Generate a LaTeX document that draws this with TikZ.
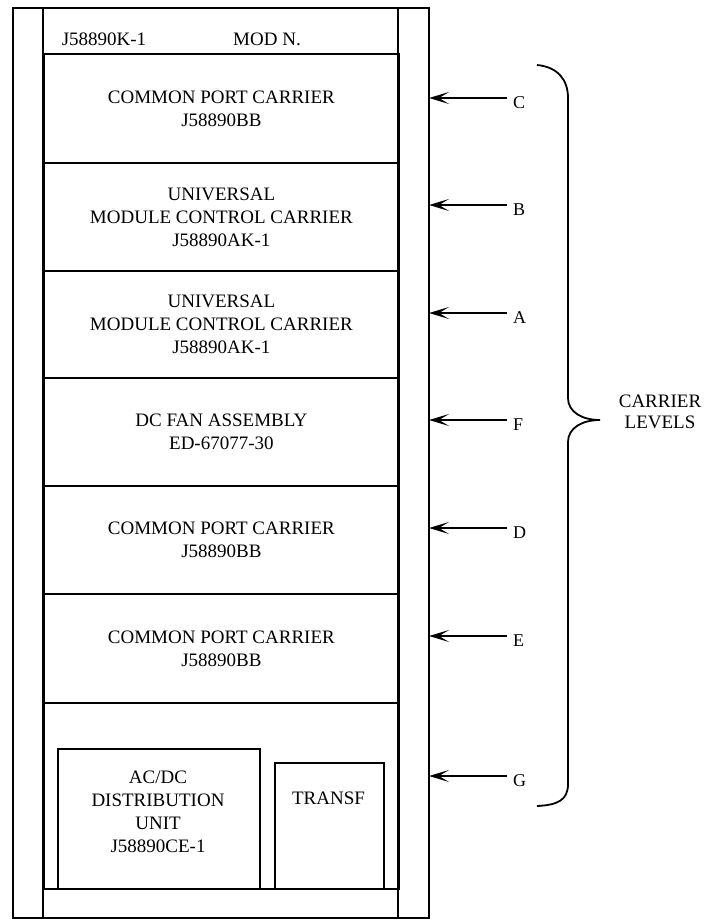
\documentclass[tikz,border=0pt]{standalone}
\usepackage{fontspec}
\setmainfont{Liberation Serif}
\usetikzlibrary{arrows.meta}
\begin{document}
\begin{tikzpicture}[x=1pt,y=-1pt,
  every node/.style={font=\fontsize{19}{23}\selectfont, align=center, inner sep=0pt},
  lw/.style={line width=1.8pt},
  panel/.style={draw, lw, minimum width=355pt, anchor=north west},
  unitbox/.style={draw, lw, anchor=north west},
  levelarrow/.style={lw, -{Stealth[length=20pt,width=12pt,inset=10pt]}},
  levellabel/.style={font=\fontsize{18}{20}\selectfont, anchor=west}]
\useasboundingbox (0,0) rectangle (704,920);
% frame
\draw[lw] (13,8) rectangle (429,918);
\draw[lw] (43,8) -- (43,918);
\draw[lw] (398,8) -- (398,918);
% top row
\node (pn) at (104,39) {J58890K-1};
\node (mod) at (267,39) {MOD N.};
% panels
\node[panel, minimum height=109pt] (pC) at (43,53) {COMMON PORT CARRIER\\J58890BB};
\node[panel, minimum height=108pt] (pB) at (43,162) {UNIVERSAL\\MODULE CONTROL CARRIER\\J58890AK-1};
\node[panel, minimum height=107pt] (pA) at (43,270) {UNIVERSAL\\MODULE CONTROL CARRIER\\J58890AK-1};
\node[panel, minimum height=108pt] (pF) at (43,377) {DC FAN ASSEMBLY\\ED-67077-30};
\node[panel, minimum height=108pt] (pD) at (43,485) {COMMON PORT CARRIER\\J58890BB};
\node[panel, minimum height=109pt] (pE) at (43,593) {COMMON PORT CARRIER\\J58890BB};
\node[panel, minimum height=186pt] (pG) at (43,702) {};
% units in bottom panel
\node[unitbox, minimum width=202pt, minimum height=140pt] (acdc) at (57,748) {};
\node (acdcT) at (158,812) {AC/DC\\DISTRIBUTION\\UNIT\\J58890CE-1};
\node[unitbox, minimum width=109pt, minimum height=126pt] (transf) at (274,762) {};
\node (transfT) at (328.5,798) {TRANSF};
% level arrows
\foreach \lab/\yy in {C/98, B/205, A/313, F/420, D/528, E/636, G/776}{
  \coordinate (s\lab) at (507,\yy);
  \coordinate (t\lab) at (429,\yy);
  \node[levellabel] (l\lab) at (513,\yy+5) {\lab};
  \draw[levelarrow] (s\lab) -- (t\lab);
}
% brace
\draw[lw] (537,65) .. controls (558,67) and (568,80) .. (568,98)
  -- (568,398) .. controls (568,412) and (582,420) .. (600,420)
  .. controls (582,420) and (568,428) .. (568,442)
  -- (568,784) .. controls (568,800) and (558,805) .. (537,806);
\node (cl) at (660,412) {CARRIER\\[-2pt]LEVELS};
\end{tikzpicture}
\end{document}
